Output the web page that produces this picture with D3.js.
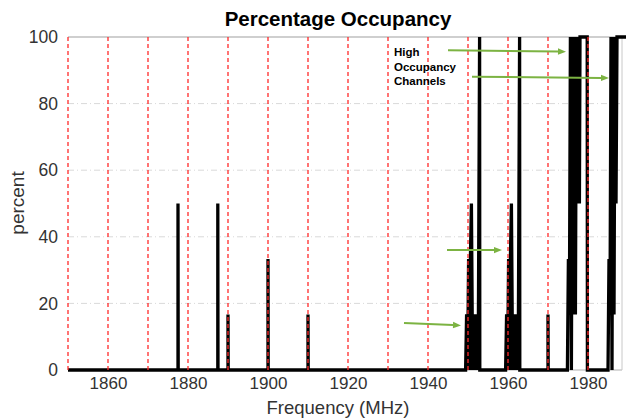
<!DOCTYPE html>
<html>
<head>
<meta charset="utf-8">
<script src="https://cdn.jsdelivr.net/npm/d3@7"></script>
<style>
  html, body { margin: 0; padding: 0; background: #fff; }
  svg { display: block; font-family: "Liberation Sans", Arial, Helvetica, sans-serif; }
</style>
</head>
<body>
<svg id="chart" width="626" height="419"></svg>
<script>
// Measured channel occupancy (percent of sweeps above threshold) vs. frequency.
// Each [MHz, percent] pair is one vertex of the occupancy trace.
const occupancyTrace = [
  [1850, 0],
  [1877.5, 0], [1877.5, 50], [1877.55, 0],
  [1887.45, 0], [1887.45, 50], [1887.5, 0],
  [1890, 0], [1890, 16.7], [1890.05, 0],
  [1900, 0], [1900, 33.3], [1900.05, 0],
  [1910, 0], [1910, 16.7], [1910.05, 0],
  [1949.4, 0], [1949.65, 16.7], [1949.9, 0], [1950.15, 33.3], [1950.4, 0],
  [1950.6, 33.3], [1950.85, 50], [1951.15, 0], [1951.4, 16.7], [1951.65, 0],
  [1951.9, 16.7], [1952.15, 0], [1952.4, 16.7], [1952.55, 0], [1952.9, 100], [1952.95, 0],
  [1959.4, 0], [1959.65, 16.7], [1959.9, 0], [1960.15, 33.3], [1960.4, 0],
  [1960.6, 33.3], [1960.85, 50], [1961.15, 0], [1961.4, 16.7], [1961.65, 0],
  [1961.9, 16.7], [1962.15, 0], [1962.4, 16.7], [1962.55, 0], [1962.9, 100], [1962.95, 0],
  [1970, 0], [1970, 16.7], [1970.05, 0],
  [1974.85, 0], [1975.1, 33.3], [1975.35, 16.7], [1975.6, 100], [1975.85, 0],
  [1976.1, 100], [1976.35, 16.7], [1976.6, 100], [1976.85, 16.7], [1977.1, 100],
  [1977.35, 50], [1977.6, 100], [1977.85, 50], [1978.0, 100], [1979.8, 100], [1979.85, 0],
  [1985.0, 0], [1985.25, 33.3], [1985.5, 16.7], [1985.75, 100], [1986.0, 0],
  [1986.25, 100], [1986.5, 16.7], [1986.75, 100], [1987.0, 50], [1987.25, 100],
  [1989.5, 100]
];

// 10 MHz channel boundaries
const channelEdges = [1850, 1860, 1870, 1880, 1890, 1900, 1910, 1920, 1930, 1940, 1950, 1960, 1970, 1980];

const xTickValues = [1860, 1880, 1900, 1920, 1940, 1960, 1980];
const yTickValues = [0, 20, 40, 60, 80, 100];
const yGridValues = [20, 40, 60, 80];

// Callout arrows: [fromMHz, fromPct, toMHz, toPct]
const calloutArrows = [
  [1945.0, 96.0, 1974.5, 95.6],
  [1951.0, 88.1, 1985.25, 87.7],
  [1944.75, 36.0, 1958.5, 36.0],
  [1934.0, 14.1, 1948.25, 13.4]
];
const calloutLines = ["High", "Occupancy", "Channels"];

const titleText = "Percentage Occupancy";
const xLabelText = "Frequency (MHz)";
const yLabelText = "percent";

const svg = d3.select("#chart");
const plotLeft = 68, plotRight = 622, plotTop = 37, plotBottom = 370;

const x = d3.scaleLinear().domain([1850, 1988.5]).range([plotLeft, plotRight]);
const y = d3.scaleLinear().domain([0, 100]).range([plotBottom, plotTop]);

// light dash-dot horizontal grid
svg.append("g").selectAll("line").data(yGridValues).join("line")
  .attr("x1", plotLeft).attr("x2", plotRight)
  .attr("y1", d => y(d)).attr("y2", d => y(d))
  .attr("stroke", "#d9d9d9").attr("stroke-width", 1)
  .attr("stroke-dasharray", "6,3,1,3");

// axes box (top, bottom, right)
svg.append("line").attr("x1", plotLeft).attr("x2", plotRight).attr("y1", y(100)).attr("y2", y(100))
  .attr("stroke", "#cfcfcf").attr("stroke-width", 2);
svg.append("line").attr("x1", plotLeft).attr("x2", plotRight).attr("y1", y(0)).attr("y2", y(0))
  .attr("stroke", "#b0b0b0").attr("stroke-width", 1);
svg.append("line").attr("x1", plotRight).attr("x2", plotRight).attr("y1", y(100)).attr("y2", y(0))
  .attr("stroke", "#c8c8c8").attr("stroke-width", 1);

// occupancy trace
const line = d3.line().x(d => x(d[0])).y(d => y(d[1]));
svg.append("path").datum(occupancyTrace)
  .attr("d", line)
  .attr("fill", "none")
  .attr("stroke", "#000")
  .attr("stroke-width", 3.3)
  .attr("stroke-linejoin", "miter");

// channel boundaries
svg.append("g").selectAll("line").data(channelEdges).join("line")
  .attr("x1", d => x(d)).attr("x2", d => x(d))
  .attr("y1", y(100)).attr("y2", y(0))
  .attr("stroke", "#ff2a2a").attr("stroke-width", 1.3)
  .attr("stroke-dasharray", "4,3");

// axes (labels only)
const yAxis = svg.append("g").attr("transform", `translate(${plotLeft},0)`)
  .call(d3.axisLeft(y).tickValues(yTickValues).tickSize(0).tickPadding(10));
yAxis.select(".domain").remove();
yAxis.selectAll("text").attr("font-size", 17.5).attr("fill", "#333")
  .attr("font-family", "'Liberation Sans', Arial, sans-serif");

const xAxis = svg.append("g").attr("transform", `translate(0,${plotBottom})`)
  .call(d3.axisBottom(x).tickValues(xTickValues).tickFormat(d3.format("d")).tickSize(0).tickPadding(7));
xAxis.select(".domain").remove();
xAxis.selectAll("text").attr("font-size", 17).attr("fill", "#333")
  .attr("font-family", "'Liberation Sans', Arial, sans-serif");

// titles
svg.append("text").attr("x", 338).attr("y", 26).attr("text-anchor", "middle")
  .attr("font-size", 20.5).attr("font-weight", "bold").attr("fill", "#000").text(titleText);
svg.append("text").attr("x", 338).attr("y", 414).attr("text-anchor", "middle")
  .attr("font-size", 18.5).attr("fill", "#333").text(xLabelText);
svg.append("text").attr("transform", "translate(24,203) rotate(-90)").attr("text-anchor", "middle")
  .attr("font-size", 19).attr("fill", "#333").text(yLabelText);

// callout text
svg.append("text").attr("font-size", 11.5).attr("font-weight", "bold").attr("fill", "#000")
  .selectAll("tspan").data(calloutLines).join("tspan")
  .attr("x", x(1931.5)).attr("y", (d, i) => 56 + i * 14.5).text(d => d);

// callout arrows
const arrowColor = "#7cb342";
const ag = svg.append("g");
calloutArrows.forEach(a => {
  const x1 = x(a[0]), y1 = y(a[1]), x2 = x(a[2]), y2 = y(a[3]);
  const ang = Math.atan2(y2 - y1, x2 - x1);
  const hl = 8, hw = 3.2;
  const bx = x2 - hl * Math.cos(ang), by = y2 - hl * Math.sin(ang);
  ag.append("line").attr("x1", x1).attr("y1", y1).attr("x2", bx).attr("y2", by)
    .attr("stroke", arrowColor).attr("stroke-width", 2);
  ag.append("path")
    .attr("d", `M${x2},${y2}L${bx - hw * Math.sin(ang)},${by + hw * Math.cos(ang)}L${bx + hw * Math.sin(ang)},${by - hw * Math.cos(ang)}Z`)
    .attr("fill", arrowColor);
});
</script>
</body>
</html>
